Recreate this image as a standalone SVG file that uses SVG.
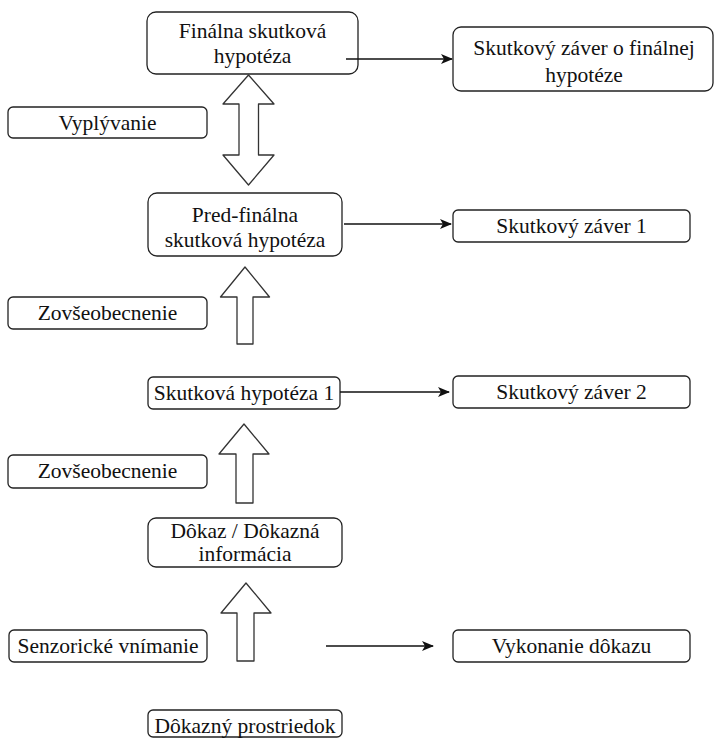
<svg xmlns="http://www.w3.org/2000/svg" width="716" height="738" viewBox="0 0 716 738">
  <defs>
    <marker id="head" viewBox="0 0 12 10" refX="11" refY="5" markerWidth="12" markerHeight="10" markerUnits="userSpaceOnUse" orient="auto">
      <path d="M0,0 L12,5 L0,10 L3,5 Z" fill="#111"/>
    </marker>
    <style>
      .box { fill: #fff; stroke: #222; stroke-width: 1.3; }
      .big { fill: #fff; stroke: #333; stroke-width: 1.3; stroke-linejoin: round; }
      .lbl { font-family: "Liberation Serif", "Times New Roman", serif; font-size: 21.5px; fill: #111; text-anchor: middle; }
      .link { fill: none; stroke: #111; stroke-width: 1.5; marker-end: url(#head); }
    </style>
  </defs>
  <rect width="716" height="738" fill="#fff"/>

  <!-- hypothesis chain (left column) -->
  <g id="final-hypothesis">
    <rect class="box" x="147" y="12" width="211" height="62" rx="9"/>
    <text class="lbl" x="252.5" y="38">Finálna skutková</text>
    <text class="lbl" x="252.5" y="63">hypotéza</text>
  </g>
  <g id="final-conclusion">
    <rect class="box" x="453" y="27" width="260" height="64" rx="8"/>
    <text class="lbl" x="584" y="55">Skutkový záver o finálnej</text>
    <text class="lbl" x="584" y="82">hypotéze</text>
  </g>
  <g id="implication">
    <rect class="box" x="8" y="107" width="199" height="31" rx="5"/>
    <text class="lbl" x="107.5" y="130">Vyplývanie</text>
  </g>
  <g id="prefinal-hypothesis">
    <rect class="box" x="148" y="193" width="194" height="63" rx="9"/>
    <text class="lbl" x="245" y="222">Pred-finálna</text>
    <text class="lbl" x="245" y="247">skutková hypotéza</text>
  </g>
  <g id="conclusion-1">
    <rect class="box" x="453" y="210" width="237" height="32" rx="5"/>
    <text class="lbl" x="571.5" y="233">Skutkový záver 1</text>
  </g>
  <g id="generalisation-1">
    <rect class="box" x="8" y="297" width="199" height="32" rx="5"/>
    <text class="lbl" x="107.5" y="320">Zovšeobecnenie</text>
  </g>
  <g id="hypothesis-1">
    <rect class="box" x="148" y="377" width="192" height="32" rx="5"/>
    <text class="lbl" x="244" y="400">Skutková hypotéza 1</text>
  </g>
  <g id="conclusion-2">
    <rect class="box" x="453" y="376" width="237" height="32" rx="5"/>
    <text class="lbl" x="571.5" y="399">Skutkový záver 2</text>
  </g>
  <g id="generalisation-2">
    <rect class="box" x="8" y="455" width="199" height="33" rx="5"/>
    <text class="lbl" x="107.5" y="478">Zovšeobecnenie</text>
  </g>
  <g id="evidence">
    <rect class="box" x="148" y="518" width="194" height="49" rx="8"/>
    <text class="lbl" x="245" y="538">Dôkaz / Dôkazná</text>
    <text class="lbl" x="245" y="561">informácia</text>
  </g>
  <g id="perception">
    <rect class="box" x="9" y="630" width="198" height="32" rx="5"/>
    <text class="lbl" x="108" y="653">Senzorické vnímanie</text>
  </g>
  <g id="taking-evidence">
    <rect class="box" x="453" y="630" width="237" height="32" rx="5"/>
    <text class="lbl" x="571.5" y="653">Vykonanie dôkazu</text>
  </g>
  <g id="means-of-proof">
    <rect class="box" x="148" y="710" width="194" height="27" rx="5"/>
    <text class="lbl" x="245" y="733">Dôkazný prostriedok</text>
  </g>

  <!-- block arrows between the stages -->
  <g id="block-arrows">
    <polygon class="big" points="248.5,75 274,104 258.5,104 258.5,155 274,155 248.5,185 223,155 239,155 239,104 223,104"/>
    <polygon class="big" points="245,267 269.5,297 253,297 253,344 237,344 237,297 220.5,297"/>
    <polygon class="big" points="244,424 269,454 253,454 253,503 236,503 236,454 219,454"/>
    <polygon class="big" points="246,583 271,613 254,613 254,661 237,661 237,613 221,613"/>
  </g>

  <!-- connectors -->
  <g id="connectors">
    <line class="link" x1="346" y1="59" x2="452" y2="59"/>
    <line class="link" x1="344" y1="224" x2="451" y2="224"/>
    <line class="link" x1="340" y1="392" x2="449" y2="392"/>
    <line class="link" x1="326" y1="646" x2="433" y2="646"/>
  </g>
</svg>
